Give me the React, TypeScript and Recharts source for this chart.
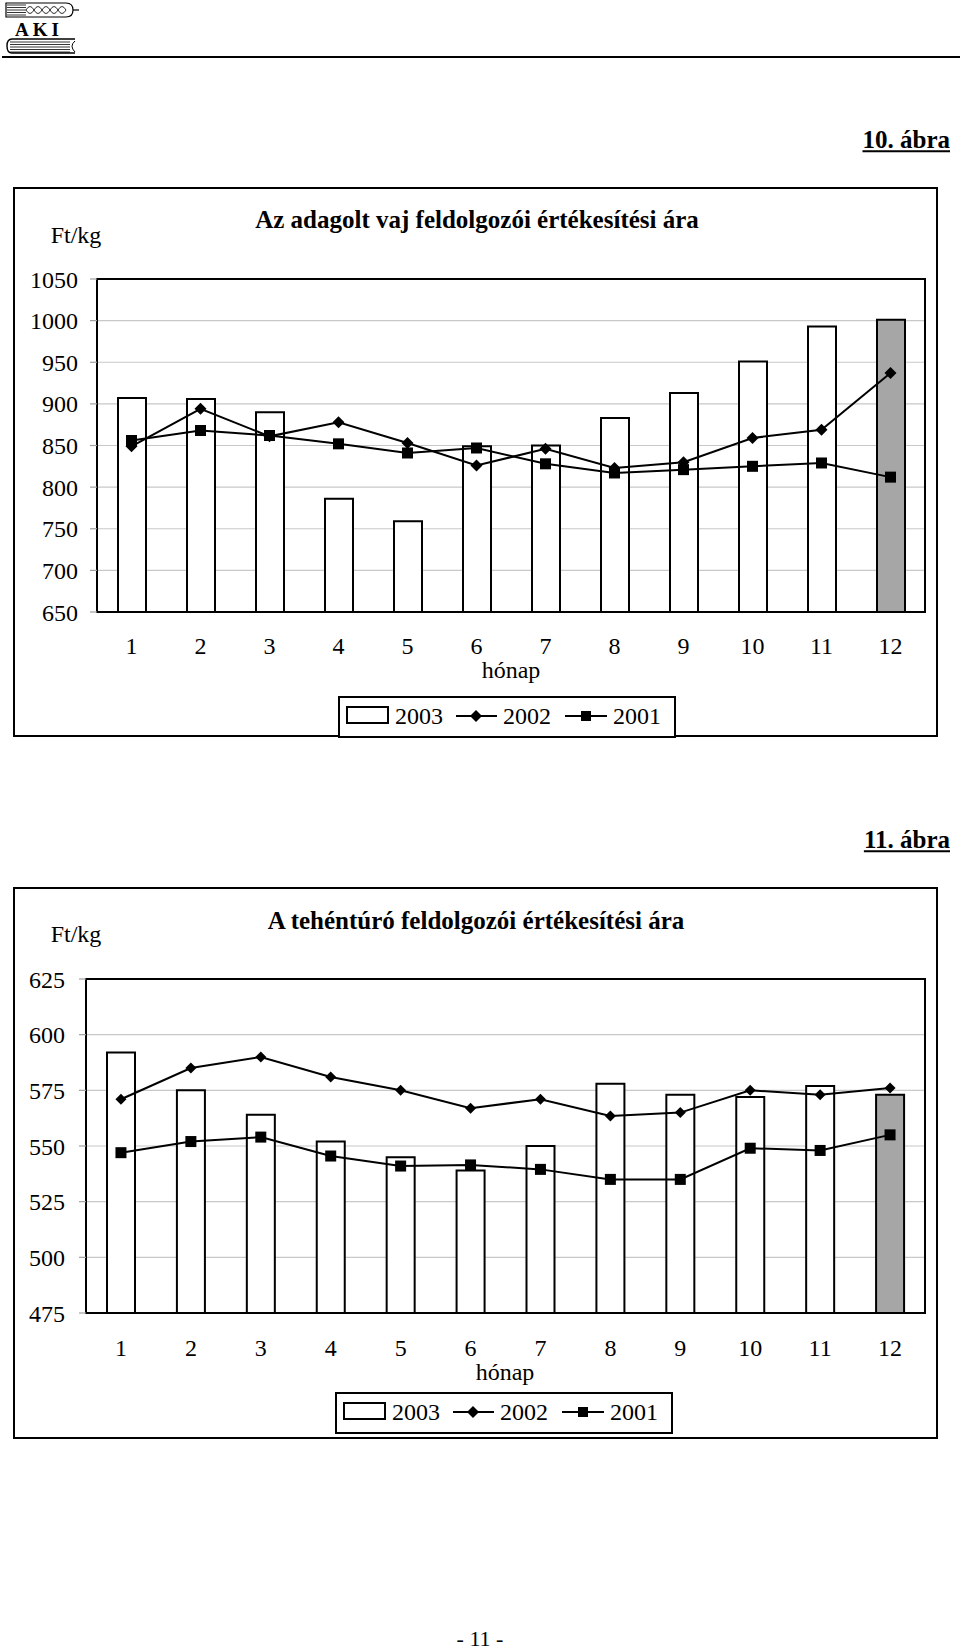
import React from 'react';
import { ComposedChart, Bar, Line, XAxis, YAxis, CartesianGrid, ReferenceArea, Cell } from 'recharts';

// ---------- data ----------
const months = ['1', '2', '3', '4', '5', '6', '7', '8', '9', '10', '11', '12'];
const boundaryTicks = [0, 1, 2, 3, 4, 5, 6, 7, 8, 9, 10, 11, 12];
const seriesNames = ['2003', '2002', '2001'];

const butterTitle = 'Az adagolt vaj feldolgozói értékesítési ára';
const butter2003 = [907, 906, 890, 786, 759, 849, 850, 883, 913, 951, 993, 1001];
const butter2002 = [849, 894, 861, 878, 853, 826, 846, 823, 830, 859, 869, 937];
const butter2001 = [856, 868, 862, 852, 841, 847, 828, 817, 821, 825, 829, 812];
const butterTicks = [650, 700, 750, 800, 850, 900, 950, 1000, 1050];

const curdTitle = 'A tehéntúró feldolgozói értékesítési ára';
const curd2003 = [592, 575, 564, 552, 545, 539, 550, 578, 573, 572, 577, 573];
const curd2002 = [571, 585, 590, 581, 575, 567, 571, 563.5, 565, 575, 573, 576];
const curd2001 = [547, 552, 554, 545.5, 541, 541.5, 539.5, 535, 535, 549, 548, 555];
const curdTicks = [475, 500, 525, 550, 575, 600, 625];

const SERIF = "'Liberation Serif', 'Times New Roman', serif";

const buildRows = (a: number[], b: number[], c: number[]) =>
  months.map((m, i) => ({ month: m, y2003: a[i], y2002: b[i], y2001: c[i] }));

const diamondDot = (s: number) => (props: any) => {
  const { cx, cy, index } = props;
  if (cx == null || cy == null) return <g key={`dn-${index}`} />;
  return (
    <path
      key={`d-${index}`}
      d={`M${cx},${cy - s} L${cx + s},${cy} L${cx},${cy + s} L${cx - s},${cy} Z`}
      fill="#000"
    />
  );
};

const squareDot = (s: number) => (props: any) => {
  const { cx, cy, index } = props;
  if (cx == null || cy == null) return <g key={`sn-${index}`} />;
  return <rect key={`s-${index}`} x={cx - s} y={cy - s} width={2 * s} height={2 * s} fill="#000" />;
};

type ChartProps = {
  top: number;
  height: number;
  rows: any[];
  ticks: number[];
  marginTop: number;
  marginLeft: number;
  marginBottom: number;
  xLabelMargin: number;
  yLabelMargin: number;
  dSize: number;
};

function PriceChart(p: ChartProps) {
  const lo = p.ticks[0];
  const hi = p.ticks[p.ticks.length - 1];
  return (
    <div style={{ position: 'absolute', left: 0, top: p.top }}>
      <ComposedChart
        width={960}
        height={p.height}
        data={p.rows}
        margin={{ top: p.marginTop, left: p.marginLeft, right: 35, bottom: p.marginBottom }}
      >
        <CartesianGrid xAxisId="cat" vertical={false} stroke="#c8c8c8" strokeWidth={1.2} />
        <XAxis
          xAxisId="cat"
          dataKey="month"
          type="category"
          height={1}
          axisLine={false}
          tickLine={false}
          tickSize={0}
          tickMargin={p.xLabelMargin}
          interval={0}
          tick={{ fill: '#000', fontSize: 24, fontFamily: SERIF }}
        />
        <XAxis
          xAxisId="grid"
          type="number"
          domain={[0, 12]}
          ticks={boundaryTicks}
          allowDataOverflow
          height={1}
          axisLine={false}
          tick={false}
          tickSize={7}
          tickLine={{ stroke: '#a0a0a0', strokeWidth: 1.2 }}
        />
        <YAxis
          domain={[lo, hi]}
          ticks={p.ticks}
          allowDataOverflow
          width={60}
          axisLine={false}
          tickSize={7}
          tickMargin={p.yLabelMargin}
          tickLine={{ stroke: '#a0a0a0', strokeWidth: 1.2 }}
          interval={0}
          tick={{ fill: '#000', fontSize: 24, fontFamily: SERIF }}
        />
        <Bar
          xAxisId="cat"
          dataKey="y2003"
          name={seriesNames[0]}
          barSize={28}
          fill="#fff"
          stroke="#000"
          strokeWidth={2}
          isAnimationActive={false}
        >
          {p.rows.map((_, i) => (
            <Cell key={`c-${i}`} fill={i === p.rows.length - 1 ? '#a6a6a6' : '#fff'} stroke="#000" />
          ))}
        </Bar>
        <Line
          xAxisId="cat"
          dataKey="y2002"
          name={seriesNames[1]}
          stroke="#000"
          strokeWidth={2}
          dot={diamondDot(p.dSize)}
          activeDot={false}
          isAnimationActive={false}
        />
        <Line
          xAxisId="cat"
          dataKey="y2001"
          name={seriesNames[2]}
          stroke="#000"
          strokeWidth={2}
          dot={squareDot(5.5)}
          activeDot={false}
          isAnimationActive={false}
        />
        <ReferenceArea
          xAxisId="cat"
          y1={lo}
          y2={hi}
          ifOverflow="visible"
          fill="none"
          fillOpacity={0}
          stroke="#000"
          strokeWidth={2}
        />
      </ComposedChart>
    </div>
  );
}

function LegendBox({ left, top }: { left: number; top: number }) {
  const ty = 20;
  const textStyle = { fontFamily: SERIF, fontSize: 24, fill: '#000' } as any;
  return (
    <svg style={{ position: 'absolute', left, top }} width={338} height={42}>
      <rect x={1} y={1} width={336} height={40} fill="#fff" stroke="#000" strokeWidth={2} />
      <rect x={9} y={11} width={41} height={16} fill="#fff" stroke="#000" strokeWidth={2} />
      <text x={57} y={ty} dominantBaseline="central" style={textStyle}>{seriesNames[0]}</text>
      <line x1={118} x2={159} y1={ty} y2={ty} stroke="#000" strokeWidth={2} />
      <path d={`M138,${ty - 6} L144,${ty} L138,${ty + 6} L132,${ty} Z`} fill="#000" />
      <text x={165} y={ty} dominantBaseline="central" style={textStyle}>{seriesNames[1]}</text>
      <line x1={227} x2={269} y1={ty} y2={ty} stroke="#000" strokeWidth={2} />
      <rect x={243} y={ty - 5} width={10} height={10} fill="#000" />
      <text x={275} y={ty} dominantBaseline="central" style={textStyle}>{seriesNames[2]}</text>
    </svg>
  );
}

const centered = (x: number, y: number, size: number, bold = false) => ({
  position: 'absolute' as const,
  left: x,
  top: y,
  transform: 'translate(-50%, -50%)',
  fontFamily: SERIF,
  fontSize: size,
  fontWeight: bold ? 700 : 400,
  whiteSpace: 'nowrap' as const,
  lineHeight: 1.1,
  color: '#000',
});

const rightAligned = (right: number, y: number) => ({
  position: 'absolute' as const,
  right: 960 - right,
  top: y,
  transform: 'translateY(-50%)',
  fontFamily: SERIF,
  fontSize: 25,
  fontWeight: 700,
  textDecoration: 'underline',
  lineHeight: 1.1,
  whiteSpace: 'nowrap' as const,
  color: '#000',
});

function Logo() {
  const lines = [];
  for (let i = 0; i < 5; i++) {
    const y = 5 + i * 2.5;
    lines.push(<line key={`e${i}`} x1={7} x2={26} y1={y} y2={y} stroke="#000" strokeWidth={0.8} />);
  }
  const leaves = [];
  for (let i = 0; i < 5; i++) {
    const x = 26 + i * 8;
    leaves.push(
      <path key={`l${i}`} d={`M${x},10 Q${x + 4},3 ${x + 8},10 Q${x + 4},17 ${x},10`} fill="none" stroke="#000" strokeWidth={0.8} />
    );
  }
  const book = [];
  for (let i = 0; i < 5; i++) {
    const y = 42 + i * 2.5;
    book.push(<line key={`b${i}`} x1={10} x2={70} y1={y} y2={y} stroke="#000" strokeWidth={0.8} />);
  }
  return (
    <svg style={{ position: 'absolute', left: 0, top: 0 }} width={90} height={58}>
      <path d="M6,3 L66,3 Q73,3 73,10 Q73,17 66,17 L6,17 Z" fill="none" stroke="#000" strokeWidth={1.2} />
      {lines}
      {leaves}
      <line x1={73} x2={79} y1={10} y2={10} stroke="#000" strokeWidth={1.2} />
      <text x={15} y={36} style={{ fontFamily: SERIF, fontSize: 19, fontWeight: 700, letterSpacing: 4 }}>AKI</text>
      <path d="M75,39 L12,39 Q7,39 7,46 Q7,53 12,53 L75,53" fill="none" stroke="#000" strokeWidth={1.4} />
      <path d="M75,41 Q69,46 75,52" fill="none" stroke="#000" strokeWidth={1} />
      {book}
    </svg>
  );
}

export default function App() {
  const butterRows = buildRows(butter2003, butter2002, butter2001);
  const curdRows = buildRows(curd2003, curd2002, curd2001);
  return (
    <div style={{ position: 'absolute', left: 0, top: 0, width: 960, height: 1650, background: '#fff' }}>
      <Logo />
      <div style={{ position: 'absolute', left: 2, top: 56, width: 958, height: 2, background: '#000' }} />

      {/* Chart 1 */}
      <div style={rightAligned(950, 140)}>10. ábra</div>
      <div style={{ position: 'absolute', left: 13, top: 187, width: 921, height: 546, border: '2px solid #000' }} />
      <div style={centered(477, 220, 25, true)}>{butterTitle}</div>
      <div style={centered(76, 235, 24)}>Ft/kg</div>
      <PriceChart
        top={180}
        height={570}
        rows={butterRows}
        ticks={butterTicks}
        marginTop={99}
        marginLeft={37}
        marginBottom={136}
        xLabelMargin={25}
        yLabelMargin={12}
        dSize={6}
      />
      <div style={centered(511, 670, 24)}>hónap</div>
      <LegendBox left={338} top={696} />

      {/* Chart 2 */}
      <div style={rightAligned(950, 840)}>11. ábra</div>
      <div style={{ position: 'absolute', left: 13, top: 887, width: 921, height: 548, border: '2px solid #000' }} />
      <div style={centered(476, 921, 25, true)}>{curdTitle}</div>
      <div style={centered(76, 934, 24)}>Ft/kg</div>
      <PriceChart
        top={880}
        height={570}
        rows={curdRows}
        ticks={curdTicks}
        marginTop={99}
        marginLeft={26}
        marginBottom={135}
        xLabelMargin={26}
        yLabelMargin={14}
        dSize={5.5}
      />
      <div style={centered(505, 1372, 24)}>hónap</div>
      <LegendBox left={335} top={1392} />

      <div style={centered(480, 1639, 22)}>- 11 -</div>
    </div>
  );
}
